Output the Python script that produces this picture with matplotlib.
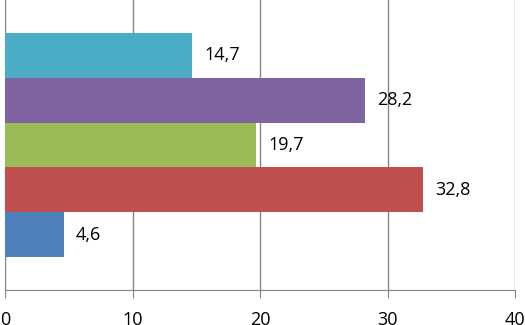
import matplotlib.pyplot as plt

values = [4.6, 32.8, 19.7, 28.2, 14.7]
labels = ['4,6', '32,8', '19,7', '28,2', '14,7']
colors = ['#4F81BD', '#C0504D', '#9BBB59', '#8064A2', '#4BACC6']
xticks = [0, 10, 20, 30, 40]

plt.rcParams['font.family'] = ['Open Sans', 'DejaVu Sans']

fig = plt.figure(figsize=(5.25, 3.25), dpi=100)
ax = fig.add_axes([5 / 525, 35 / 325, 510 / 525, 290 / 325])

pos = list(range(len(values)))
ax.barh(pos, values, height=1.0, color=colors, zorder=3)

for p, v, lab in zip(pos, values, labels):
    ax.text(v + 0.95, p, lab, va='center', ha='left', fontsize=13, color='black', zorder=4)

ax.set_xlim(0, 40)
ax.set_ylim(-1.237, 5.237)
ax.set_xticks(xticks)
ax.set_xticklabels([str(t) for t in xticks], fontsize=13)
ax.set_yticks([])
ax.grid(axis='x', color='#868686', linewidth=1, zorder=0)

for s in ['top', 'right']:
    ax.spines[s].set_visible(False)
ax.spines['left'].set_color('#868686')
ax.spines['bottom'].set_color('#868686')
ax.tick_params(axis='x', length=6, color='#868686', pad=9)

fig.savefig('out.png', dpi=100)
